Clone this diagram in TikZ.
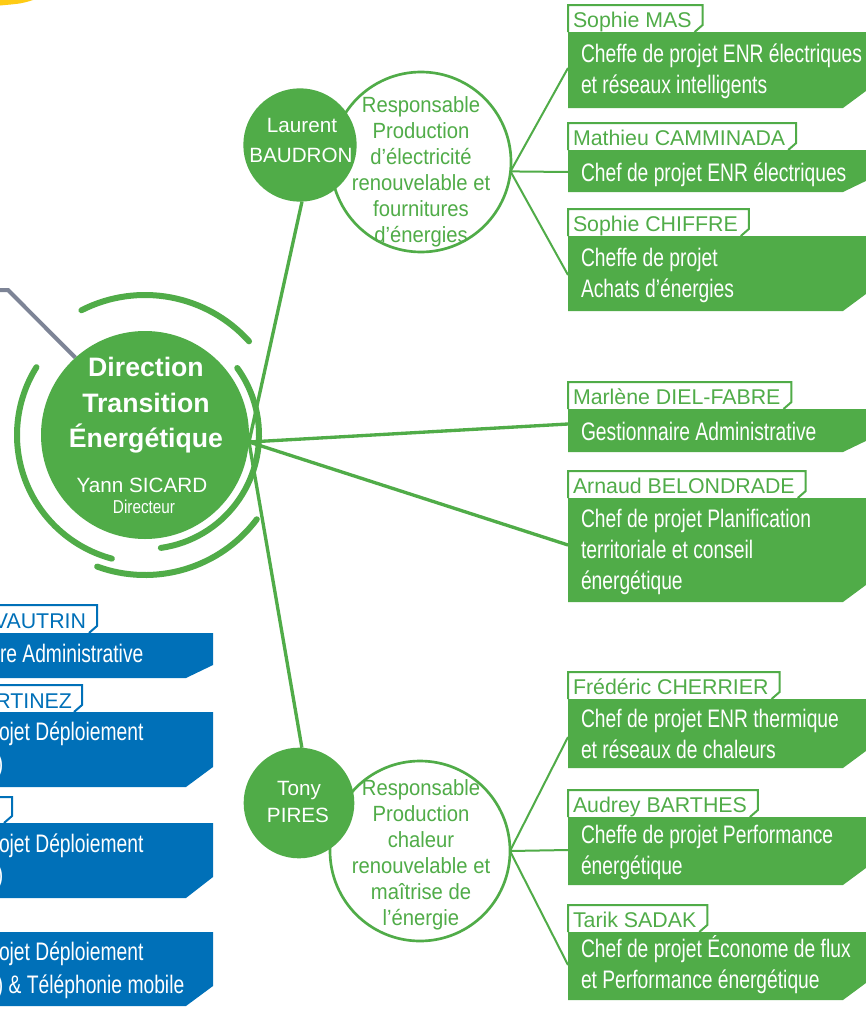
\documentclass[tikz,border=0pt]{standalone}
\usepackage{fontspec}
\setmainfont{Liberation Sans}
\newfontfamily\condf[FakeStretch=0.76]{Liberation Sans}
\newfontfamily\smallcondf[FakeStretch=0.82]{Liberation Sans}
\newfontfamily\respf[FakeStretch=0.92]{Liberation Sans}
\usetikzlibrary{calc}
\pgfdeclarelayer{back}
\pgfdeclarelayer{links}
\pgfdeclarelayer{boxes}
\pgfsetlayers{back,links,boxes,main}
\definecolor{dtgreen}{RGB}{80,172,72}
\definecolor{dtblue}{RGB}{0,112,184}
\definecolor{dtgray}{RGB}{125,132,150}
\definecolor{dtyellow}{RGB}{254,203,20}
\newcommand\namefont{\fontsize{16}{19}\selectfont}
\tikzset{
  every node/.style={inner sep=0pt, outer sep=0pt},
  conn/.style={draw=dtgreen, line width=2.5pt},
  sublink/.style={draw=dtgreen, line width=1.5pt},
  grayl/.style={draw=dtgray, line width=3pt},
  ring/.style={draw=dtgreen, line width=4.5pt, line cap=round},
  gbody/.style={fill=dtgreen},
  gtab/.style={draw=dtgreen, fill=white, line width=1.5pt},
  bbody/.style={fill=dtblue},
  btab/.style={draw=dtblue, fill=white, line width=1.5pt},
  btxt/.style={font=\condf\fontsize{19}{23}\selectfont, text=white, anchor=base west},
  gname/.style={font=\namefont, text=dtgreen, anchor=base west},
  bname/.style={font=\namefont, text=dtblue, anchor=base east},
  resp/.style={font=\respf\fontsize{16.5}{19}\selectfont, text=dtgreen, anchor=base},
  pers/.style={font=\fontsize{15.5}{18}\selectfont, text=white, anchor=base},
  bigcirc/.style={circle, fill=dtgreen},
  respcirc/.style={circle, draw=dtgreen, line width=2pt, fill=white, minimum size=135pt},
}
\newcommand\gbox[5]{%
  \node[gname] (#1) at (573,#3-4.5) {#2};
  \begin{pgfonlayer}{boxes}
  \draw[gtab] let \p1=(#1.east), \p2=(568,#3-27), \p3=(568,#3) in
    (\p3) -- (\p2) -- (\x1+8.25pt,\y2) -- (\x1+8.25pt,\y3+5.25pt) -- (\x1+2.25pt,\y3);
  \fill[gbody] (568,#3) -- (870,#3) -- (870,#4-#5) -- (843,#4) -- (568,#4) -- cycle;
  \end{pgfonlayer}
}
\begin{document}
\begin{tikzpicture}[x=0.75pt,y=-0.75pt]
\useasboundingbox (0,0) rectangle (865,1010);
\begin{pgfonlayer}{back}
\fill[white] (0,0) rectangle (865,1010);
\end{pgfonlayer}
\clip (0,0) rectangle (865,1010);

% yellow fragment top-left
\fill[dtyellow] (-2,-2) -- (36,-2) -- (33,0) .. controls (22,3.5) .. (0,5.5) -- cycle;

% central circle and rings
\node[bigcirc, minimum size=156pt] (dir) at (145,435) {};
\draw[ring] ($(dir.center)+(-42:140)$) arc[start angle=-42, end angle=-117, radius=140];
\draw[ring] ($(dir.center)+(82:114)$) arc[start angle=82, end angle=-36, radius=114];
\draw[ring] ($(dir.center)+(-148:128)$) arc[start angle=-148, end angle=-255, radius=128];
\draw[ring] ($(dir.center)+(-250:140)$) arc[start angle=-250, end angle=-323, radius=140];

\node[font=\bfseries\fontsize{20}{24}\selectfont, text=white, anchor=base] (t1) at (146,376) {Direction};
\node[font=\bfseries\fontsize{20}{24}\selectfont, text=white, anchor=base] (t2) at (146,412) {Transition};
\node[font=\bfseries\fontsize{20}{24}\selectfont, text=white, anchor=base] (t3) at (146,447) {Énergétique};
\node[pers] (t4) at (142,492) {Yann SICARD};
\node[font=\smallcondf\fontsize{14}{16}\selectfont, text=white, anchor=base] (t5) at (144,513) {Directeur};

% responsible circles
\node[respcirc] (r1) at (421,162) {};
\node[respcirc] (r2) at (420,851) {};
\node[bigcirc, minimum size=85pt] (lb) at (300,145) {};
\node[bigcirc, minimum size=83pt] (tp) at (299,803) {};
\node[pers] (lb1) at (302,132) {Laurent};
\node[pers] (lb2) at (301,162) {BAUDRON};
\node[pers] (tp1) at (299,795) {Tony};
\node[pers] (tp2) at (298,822) {PIRES};

\node[resp] (ra1) at (421,112) {Responsable};
\node[resp] (ra2) at (421,138) {Production};
\node[resp] (ra3) at (421,164) {d’électricité};
\node[resp] (ra4) at (421,190) {renouvelable et};
\node[resp] (ra5) at (421,216) {fournitures};
\node[resp] (ra6) at (421,242) {d’énergies};

\node[resp] (rb1) at (421,795) {Responsable};
\node[resp] (rb2) at (421,821) {Production};
\node[resp] (rb3) at (421,847) {chaleur};
\node[resp] (rb4) at (421,873) {renouvelable et};
\node[resp] (rb5) at (421,899) {maîtrise de};
\node[resp] (rb6) at (421,925) {l’énergie};

% green boxes
\gbox{sm}{Sophie MAS}{32}{108}{20}
\node[btxt] (sm1) at (581,62) {Cheffe de projet ENR électriques};
\node[btxt] (sm2) at (581,93) {et réseaux intelligents};
\gbox{mc}{Mathieu CAMMINADA}{150}{192}{13}
\node[btxt] (mc1) at (581,181) {Chef de projet ENR électriques};
\gbox{sc}{Sophie CHIFFRE}{236}{311}{20}
\node[btxt] (sc1) at (581,266) {Cheffe de projet};
\node[btxt] (sc2) at (581,297) {Achats d’énergies};
\gbox{md}{Marlène DIEL-FABRE}{409}{452}{13}
\node[btxt] (md1) at (581,440) {Gestionnaire Administrative};
\gbox{ab}{Arnaud BELONDRADE}{498}{602}{20}
\node[btxt] (ab1) at (581,527) {Chef de projet Planification};
\node[btxt] (ab2) at (581,558) {territoriale et conseil};
\node[btxt] (ab3) at (581,589) {énergétique};
\gbox{fc}{Frédéric CHERRIER}{699}{768}{20}
\node[btxt] (fc1) at (581,727) {Chef de projet ENR thermique};
\node[btxt] (fc2) at (581,758) {et réseaux de chaleurs};
\gbox{ay}{Audrey BARTHES}{817}{885}{20}
\node[btxt] (ay1) at (581,843) {Cheffe de projet Performance};
\node[btxt] (ay2) at (581,874) {énergétique};
\gbox{ts}{Tarik SADAK}{932}{1000}{20}
\node[btxt] (ts1) at (581,957) {Chef de projet Économe de flux};
\node[btxt] (ts2) at (581,988) {et Performance énergétique};

% blue boxes (cut at left edge)
\draw[btab] (-5,633) -- (-5,605) -- (97,605) -- (97,626) -- (89,633);
\fill[bbody] (-5,633) -- (213,633) -- (213,665) -- (186,678) -- (-5,678) -- cycle;
\node[bname] (bv) at (86,628) {VAUTRIN};
\node[btxt] (bv1) at (0,662) {re Administrative};

\draw[btab] (-5,712) -- (-5,685) -- (82,685) -- (82,705) -- (74,712);
\fill[bbody] (-5,712) -- (213,712) -- (213,767) -- (186,787) -- (-5,787) -- cycle;
\node[bname] (bm) at (72,708) {RTINEZ};
\node[btxt] (bm1) at (-1,740) {ojet Déploiement};
\node[btxt] (bm2) at (-3,772) {)};

\draw[btab] (-5,823) -- (-5,797) -- (12,797) -- (12,816) -- (4,823);
\fill[bbody] (-5,823) -- (213,823) -- (213,877) -- (186,898) -- (-5,898) -- cycle;
\node[btxt] (bx1) at (-1,852) {ojet Déploiement};
\node[btxt] (bx2) at (-3,883) {)};

\fill[bbody] (-5,932) -- (213,932) -- (213,986) -- (186,1006) -- (-5,1006) -- cycle;
\node[btxt] (by1) at (-1,960) {ojet Déploiement};
\node[btxt] (by2) at (-3,993) {) \& Téléphonie mobile};

% connector end points
\coordinate (J) at (249,442);
\coordinate (g0) at (-5,290);
\coordinate (g1) at (8,290);
\coordinate (ksm) at (568,68);
\coordinate (kmc) at (568,172);
\coordinate (ksc) at (568,275);
\coordinate (kmd) at (568,424);
\coordinate (kab) at (568,545);
\coordinate (kfc) at (568,737);
\coordinate (kay) at (568,850);
\coordinate (kts) at (568,965);

\begin{pgfonlayer}{links}
\draw[grayl] (g0) -- (g1) -- (dir.132);
\draw[conn] (J) -- (lb.-88);
\draw[conn] (J) -- (tp.87);
\draw[conn] (J) -- (kmd);
\draw[conn] (J) -- (kab);
\draw[sublink] (r1.-6) -- (ksm);
\draw[sublink] (r1.-6) -- (kmc);
\draw[sublink] (r1.-6) -- (ksc);
\draw[sublink] (r2.0) -- (kfc);
\draw[sublink] (r2.0) -- (kay);
\draw[sublink] (r2.0) -- (kts);
\end{pgfonlayer}
\end{tikzpicture}
\end{document}
